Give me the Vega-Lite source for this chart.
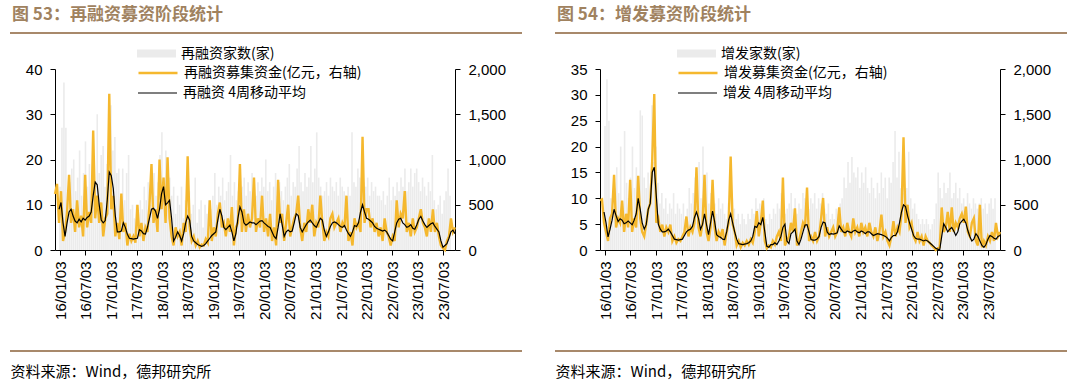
{
"$schema": "https://vega.github.io/schema/vega-lite/v6.json",
"background": "white",
"autosize": {"type": "pad"},
"padding": {"left": 9, "top": 6, "right": 12, "bottom": 4},
"bounds": "flush",
"spacing": 33,
"config": {
  "view": {"stroke": null},
  "axis": {"grid": false, "domainColor": "#000000", "tickColor": "#000000", "labelColor": "#000000", "labelFont": "Liberation Sans", "labelFontSize": 15, "tickSize": 5, "domainWidth": 1, "tickWidth": 1},
  "legend": {"labelFont": "Noto Sans CJK SC", "labelFontSize": 14, "labelColor": "#000000", "labelOffset": 5, "labelLimit": 400, "padding": 0, "title": null, "clipHeight": 20, "rowPadding": 0, "symbolSize": 1521},
  "title": {"font": "Noto Sans CJK SC", "fontSize": 17, "fontWeight": "bold", "color": "#a0825f", "anchor": "start", "frame": "group", "offset": 8, "dx": 2}
},
"resolve": {"scale": {"fill": "independent", "stroke": "independent", "color": "independent"}},
"hconcat": [
{
  "title": {"text": "图 53：再融资募资阶段统计"},
  "width": 512, "height": 318,
  "data": {"values": "d,n,a,m\n2016-01-03,14,620,\n2016-01-17,27,730,\n2016-01-31,37,300,450\n2016-02-14,27,650,525\n2016-02-28,12,100,300\n2016-03-13,15,200,150\n2016-03-27,18,420,300\n2016-04-10,20,830,420\n2016-04-24,13,300,450\n2016-05-08,16,450,375\n2016-05-22,22,200,320\n2016-06-05,12,550,300\n2016-06-19,17,250,340\n2016-07-03,24,380,310\n2016-07-17,14,150,350\n2016-07-31,19,830,330\n2016-08-14,13,250,360\n2016-08-28,23,420,375\n2016-09-11,15,300,420\n2016-09-25,30,1320,600\n2016-10-09,17,350,750\n2016-10-23,21,600,720\n2016-11-06,23,300,500\n2016-11-20,14,525,330\n2016-12-04,19,150,300\n2016-12-18,16,350,325\n2017-01-01,32,400,550\n2017-01-15,22,1725,860\n2017-01-29,25,450,820\n2017-02-12,17,600,680\n2017-02-26,18,150,380\n2017-03-12,12,300,200\n2017-03-26,18,120,200\n2017-04-09,11,625,210\n2017-04-23,17,200,300\n2017-05-07,21,300,250\n2017-05-21,9,50,175\n2017-06-04,10,180,130\n2017-06-18,7,100,125\n2017-07-02,10,150,120\n2017-07-16,8,80,125\n2017-07-30,11,500,130\n2017-08-13,9,150,225\n2017-08-27,14,300,210\n2017-09-10,11,100,180\n2017-09-24,15,250,175\n2017-10-08,10,200,250\n2017-10-22,14,500,350\n2017-11-05,17,950,450\n2017-11-19,12,300,460\n2017-12-03,15,450,430\n2017-12-17,21,200,350\n2017-12-31,26,1000,450\n2018-01-14,16,450,620\n2018-01-28,22,800,700\n2018-02-11,13,300,500\n2018-02-25,16,1025,520\n2018-03-11,12,350,550\n2018-03-25,14,150,350\n2018-04-08,8,50,100\n2018-04-22,12,250,140\n2018-05-06,10,150,200\n2018-05-20,14,200,160\n2018-06-03,7,50,100\n2018-06-17,11,300,180\n2018-07-01,9,200,300\n2018-07-15,13,1035,375\n2018-07-29,8,250,330\n2018-08-12,10,100,150\n2018-08-26,16,150,100\n2018-09-09,6,50,80\n2018-09-23,9,100,60\n2018-10-07,11,30,50\n2018-10-21,5,60,40\n2018-11-04,10,50,50\n2018-11-18,8,120,70\n2018-12-02,11,80,100\n2018-12-16,9,550,130\n2018-12-30,12,100,160\n2019-01-13,17,250,180\n2019-01-27,10,150,200\n2019-02-10,14,400,330\n2019-02-24,12,525,450\n2019-03-10,16,250,380\n2019-03-24,11,300,250\n2019-04-07,13,150,225\n2019-04-21,15,350,250\n2019-05-05,21,200,275\n2019-05-19,12,475,200\n2019-06-02,15,50,100\n2019-06-16,11,250,180\n2019-06-30,13,300,350\n2019-07-14,18,950,475\n2019-07-28,14,200,420\n2019-08-11,16,450,300\n2019-08-25,12,200,275\n2019-09-08,15,400,290\n2019-09-22,13,250,310\n2019-10-06,17,350,300\n2019-10-20,14,800,300\n2019-11-03,12,200,280\n2019-11-17,15,350,300\n2019-12-01,13,250,320\n2019-12-15,16,600,325\n2019-12-29,14,200,300\n2020-01-12,20,350,280\n2020-01-26,13,150,260\n2020-02-09,15,400,250\n2020-02-23,11,100,200\n2020-03-08,14,250,150\n2020-03-22,17,50,125\n2020-04-05,12,775,250\n2020-04-19,15,300,400\n2020-05-03,13,400,280\n2020-05-17,11,100,150\n2020-05-31,14,300,200\n2020-06-14,16,500,220\n2020-06-28,19,150,200\n2020-07-12,12,250,210\n2020-07-26,15,350,300\n2020-08-09,14,400,400\n2020-08-23,18,600,380\n2020-09-06,23,250,250\n2020-09-20,15,100,200\n2020-10-04,13,300,240\n2020-10-18,17,200,280\n2020-11-01,14,450,310\n2020-11-15,16,300,330\n2020-11-29,23,500,300\n2020-12-13,15,150,270\n2020-12-27,18,300,250\n2021-01-10,26,250,300\n2021-01-24,16,600,350\n2021-02-07,14,300,330\n2021-02-21,12,100,220\n2021-03-07,13,200,150\n2021-03-21,15,150,200\n2021-04-04,12,350,260\n2021-04-18,16,400,300\n2021-05-02,14,250,310\n2021-05-16,13,300,300\n2021-05-30,15,350,280\n2021-06-13,12,200,260\n2021-06-27,16,300,250\n2021-07-11,14,250,270\n2021-07-25,13,600,220\n2021-08-08,11,100,180\n2021-08-22,14,200,150\n2021-09-05,12,50,200\n2021-09-19,26,350,270\n2021-10-03,15,250,260\n2021-10-17,14,300,300\n2021-10-31,18,200,420\n2021-11-14,16,1250,500\n2021-11-28,13,300,420\n2021-12-12,15,450,350\n2021-12-26,14,450,340\n2022-01-09,16,250,320\n2022-01-23,12,350,300\n2022-02-06,15,200,260\n2022-02-20,13,300,240\n2022-03-06,14,150,230\n2022-03-20,12,250,220\n2022-04-03,12,100,210\n2022-04-17,11,350,220\n2022-05-01,13,200,200\n2022-05-15,10,150,160\n2022-05-29,12,50,120\n2022-06-12,16,150,100\n2022-06-26,11,100,200\n2022-07-10,14,550,300\n2022-07-24,12,250,340\n2022-08-07,15,400,350\n2022-08-21,13,350,300\n2022-09-04,16,650,280\n2022-09-18,14,200,250\n2022-10-02,18,300,260\n2022-10-16,13,150,280\n2022-10-30,15,350,240\n2022-11-13,18,200,230\n2022-11-27,14,250,280\n2022-12-11,17,350,340\n2022-12-25,18,450,370\n2023-01-08,15,300,320\n2023-01-22,13,250,280\n2023-02-05,16,150,250\n2023-02-19,14,350,270\n2023-03-05,12,200,290\n2023-03-19,15,450,300\n2023-04-02,13,200,260\n2023-04-16,21,300,230\n2023-04-30,11,150,200\n2023-05-14,9,50,100\n2023-05-28,10,20,30\n2023-06-11,12,0,50\n2023-06-25,8,100,70\n2023-07-09,11,150,130\n2023-07-23,13,350,200\n2023-08-06,18,200,220\n2023-08-20,12,250,180", "format": {"type": "csv", "parse": {"d": "date:'%Y-%m-%d'", "n": "number", "a": "number", "m": "number"}}},
  "resolve": {"scale": {"x": "independent", "y": "independent"}},
  "layer": [
    {
      "mark": {"type": "bar", "width": 1.6},
      "encoding": {
        "x": {"field": "d", "type": "temporal", "title": "资料来源：Wind，德邦研究所",
          "scale": {"domain": [{"year": 2016, "month": 1, "date": 3}, {"year": 2023, "month": 8, "date": 20}], "range": [45, 445]},
          "axis": {"orient": "bottom", "offset": -101, "format": "%y/%m/%d", "labelAngle": 270, "labelPadding": 6, "labelFlush": false, "labelOverlap": false,
            "values": [{"year": 2016, "month": 1, "date": 3}, {"year": 2016, "month": 7, "date": 3}, {"year": 2017, "month": 1, "date": 3}, {"year": 2017, "month": 7, "date": 3}, {"year": 2018, "month": 1, "date": 3}, {"year": 2018, "month": 7, "date": 3}, {"year": 2019, "month": 1, "date": 3}, {"year": 2019, "month": 7, "date": 3}, {"year": 2020, "month": 1, "date": 3}, {"year": 2020, "month": 7, "date": 3}, {"year": 2021, "month": 1, "date": 3}, {"year": 2021, "month": 7, "date": 3}, {"year": 2022, "month": 1, "date": 3}, {"year": 2022, "month": 7, "date": 3}, {"year": 2023, "month": 1, "date": 3}, {"year": 2023, "month": 7, "date": 3}],
            "titleX": 0, "titleY": 121, "titleAlign": "left", "titleBaseline": "middle", "titleFont": "Noto Sans CJK SC", "titleFontSize": 15, "titleFontWeight": "normal", "titleColor": "#000000"}},
        "y": {"field": "n", "type": "quantitative", "scale": {"domain": [0, 40], "range": [217, 36], "nice": false}, "axis": {"orient": "left", "offset": -45, "values": [0, 10, 20, 30, 40], "title": null, "labelPadding": 8}},
        "fill": {"datum": "再融资家数(家)", "scale": {"range": ["#ebebeb"]}, "legend": {"orient": "none", "legendX": 127, "legendY": 10.5, "symbolType": "M-1,-0.2H1V0.2H-1Z", "symbolStrokeWidth": 0}}
      }
    },
    {
      "layer": [
        {
          "mark": {"type": "line", "strokeWidth": 2.4},
          "encoding": {
            "x": {"field": "d", "type": "temporal", "scale": {"domain": [{"year": 2016, "month": 1, "date": 3}, {"year": 2023, "month": 8, "date": 20}], "range": [45, 445]}, "axis": null},
            "y": {"field": "a", "type": "quantitative", "scale": {"domain": [0, 2000], "range": [217, 36], "nice": false}, "axis": {"orient": "right", "offset": -67, "values": [0, 500, 1000, 1500, 2000], "format": ",.0f", "title": null, "labelPadding": 8}},
            "stroke": {"datum": "再融资募集资金(亿元，右轴)", "scale": {"range": ["#f5b82e"]}, "legend": {"orient": "none", "legendX": 127, "legendY": 30, "symbolType": "stroke", "symbolStrokeWidth": 2.5}}
          }
        },
        {
          "mark": {"type": "line", "strokeWidth": 1.2},
          "encoding": {
            "x": {"field": "d", "type": "temporal", "axis": null},
            "y": {"field": "m", "type": "quantitative", "axis": {"orient": "right", "offset": -67, "values": [0, 500, 1000, 1500, 2000], "format": ",.0f", "title": null, "labelPadding": 8}},
            "color": {"datum": "再融资 4周移动平均", "scale": {"range": ["#000000"]}, "legend": {"orient": "none", "legendX": 127, "legendY": 50, "symbolType": "stroke", "symbolStrokeWidth": 1.2}}
          }
        }
      ]
    },
    {
      "data": {"values": [{}]},
      "layer": [
        {"mark": {"type": "rule", "color": "#a8896b", "strokeWidth": 2}, "encoding": {"x": {"datum": 0, "type": "quantitative", "scale": {"domain": [0, 1]}, "axis": null}, "x2": {"datum": 1}, "y": {"datum": 1, "type": "quantitative", "scale": {"domain": [0, 1]}, "axis": null}}},
        {"mark": {"type": "rule", "color": "#a8896b", "strokeWidth": 2}, "encoding": {"x": {"datum": 0, "type": "quantitative", "axis": null}, "x2": {"datum": 1}, "y": {"datum": 0, "type": "quantitative", "axis": null}}}
      ]
    }
  ]
},
{
  "title": {"text": "图 54：增发募资阶段统计"},
  "width": 512, "height": 318,
  "data": {"values": "d,n,a,m\n2016-01-03,24,550,\n2016-01-17,33,560,\n2016-01-31,25,300,420\n2016-02-14,10,200,300\n2016-02-28,8,100,145\n2016-03-13,12,350,230\n2016-03-27,16,400,330\n2016-04-10,11,830,450\n2016-04-24,20,250,380\n2016-05-08,9,350,315\n2016-05-22,23,300,345\n2016-06-05,13,545,330\n2016-06-19,10,200,290\n2016-07-03,14,400,300\n2016-07-17,20,250,320\n2016-07-31,12,775,300\n2016-08-14,16,200,280\n2016-08-28,11,350,330\n2016-09-11,27,250,400\n2016-09-25,26,820,570\n2016-10-09,14,350,450\n2016-10-23,12,200,300\n2016-11-06,15,150,230\n2016-11-20,10,290,280\n2016-12-04,28,450,450\n2016-12-18,17,515,515\n2017-01-01,20,1000,860\n2017-01-15,13,1723,915\n2017-01-29,9,300,600\n2017-02-12,11,350,285\n2017-02-26,8,200,230\n2017-03-12,10,280,200\n2017-03-26,7,150,200\n2017-04-09,9,250,210\n2017-04-23,8,200,230\n2017-05-07,11,280,200\n2017-05-21,7,100,160\n2017-06-04,9,150,120\n2017-06-18,8,80,115\n2017-07-02,7,120,110\n2017-07-16,9,100,115\n2017-07-30,6,150,120\n2017-08-13,8,200,160\n2017-08-27,12,370,200\n2017-09-10,9,150,220\n2017-09-24,11,250,230\n2017-10-08,14,200,260\n2017-10-22,12,300,360\n2017-11-05,17,915,420\n2017-11-19,10,250,350\n2017-12-03,20,150,230\n2017-12-17,12,300,280\n2017-12-31,15,830,400\n2018-01-14,9,200,280\n2018-01-28,11,100,170\n2018-02-11,8,250,300\n2018-02-25,9,775,430\n2018-03-11,7,250,320\n2018-03-25,10,100,170\n2018-04-08,8,200,150\n2018-04-22,9,150,140\n2018-05-06,7,230,120\n2018-05-20,6,50,115\n2018-06-03,9,200,200\n2018-06-17,7,300,330\n2018-07-01,10,1033,400\n2018-07-15,8,285,300\n2018-07-29,6,200,200\n2018-08-12,7,50,120\n2018-08-26,5,100,70\n2018-09-09,7,30,65\n2018-09-23,6,80,60\n2018-10-07,5,50,65\n2018-10-21,7,100,70\n2018-11-04,6,60,80\n2018-11-18,8,120,100\n2018-12-02,7,80,150\n2018-12-16,10,200,260\n2018-12-30,8,430,250\n2019-01-13,9,150,300\n2019-01-27,7,300,280\n2019-02-10,10,545,360\n2019-02-24,6,100,200\n2019-03-10,5,20,40\n2019-03-24,7,50,30\n2019-04-07,6,30,60\n2019-04-21,8,100,60\n2019-05-05,7,60,80\n2019-05-19,9,150,60\n2019-06-02,8,200,100\n2019-06-16,11,100,150\n2019-06-30,9,800,250\n2019-07-14,7,50,285\n2019-07-28,8,100,100\n2019-08-11,9,150,70\n2019-08-25,11,300,180\n2019-09-08,8,200,200\n2019-09-22,10,460,230\n2019-10-06,7,50,100\n2019-10-20,9,100,60\n2019-11-03,8,200,120\n2019-11-17,11,300,200\n2019-12-01,10,250,275\n2019-12-15,9,690,280\n2019-12-29,8,100,200\n2020-01-12,10,150,115\n2020-01-26,9,100,110\n2020-02-09,11,200,110\n2020-02-23,8,100,120\n2020-03-08,10,150,150\n2020-03-22,9,350,250\n2020-04-05,11,575,310\n2020-04-19,8,150,300\n2020-05-03,7,250,200\n2020-05-17,9,150,170\n2020-05-31,6,200,180\n2020-06-14,7,250,175\n2020-06-28,6,150,180\n2020-07-12,8,200,190\n2020-07-26,7,470,265\n2020-08-09,9,200,230\n2020-08-23,10,250,200\n2020-09-06,14,150,190\n2020-09-20,12,300,210\n2020-10-04,17,200,200\n2020-10-18,13,150,190\n2020-11-01,18,350,210\n2020-11-15,15,200,220\n2020-11-29,14,250,200\n2020-12-13,16,150,190\n2020-12-27,12,300,210\n2021-01-10,15,200,200\n2021-01-24,13,250,180\n2021-02-07,16,150,200\n2021-02-21,12,300,200\n2021-03-07,11,200,180\n2021-03-21,14,150,160\n2021-04-04,12,250,170\n2021-04-18,10,100,180\n2021-05-02,13,200,175\n2021-05-16,11,390,170\n2021-05-30,15,150,160\n2021-06-13,12,200,150\n2021-06-27,14,100,130\n2021-07-11,10,50,100\n2021-07-25,14,150,140\n2021-08-08,13,320,160\n2021-08-22,17,150,160\n2021-09-05,23,250,200\n2021-09-19,14,200,300\n2021-10-03,19,400,420\n2021-10-17,12,1245,500\n2021-10-31,11,300,480\n2021-11-14,10,500,380\n2021-11-28,12,250,300\n2021-12-12,19,300,230\n2021-12-26,10,150,160\n2022-01-09,8,100,130\n2022-01-23,9,200,120\n2022-02-06,7,100,120\n2022-02-20,6,150,110\n2022-03-06,5,50,100\n2022-03-20,6,150,110\n2022-04-03,5,100,100\n2022-04-17,6,80,80\n2022-05-01,5,50,60\n2022-05-15,4,30,40\n2022-05-29,5,0,20\n2022-06-12,6,20,10\n2022-06-26,9,30,0\n2022-07-10,15,470,150\n2022-07-24,12,200,290\n2022-08-07,10,250,250\n2022-08-21,13,420,200\n2022-09-04,11,200,230\n2022-09-18,12,470,250\n2022-10-02,15,200,210\n2022-10-16,10,300,160\n2022-10-30,11,250,200\n2022-11-13,13,350,290\n2022-11-27,10,400,320\n2022-12-11,12,300,340\n2022-12-25,9,480,300\n2023-01-08,10,200,215\n2023-01-22,8,150,150\n2023-02-05,11,300,100\n2023-02-19,9,350,120\n2023-03-05,8,100,180\n2023-03-19,10,50,150\n2023-04-02,9,500,100\n2023-04-16,8,30,50\n2023-04-30,9,100,30\n2023-05-14,10,50,60\n2023-05-28,8,150,120\n2023-06-11,9,100,160\n2023-06-25,7,200,150\n2023-07-09,9,100,130\n2023-07-23,10,300,120\n2023-08-06,8,150,150\n2023-08-20,10,200,160", "format": {"type": "csv", "parse": {"d": "date:'%Y-%m-%d'", "n": "number", "a": "number", "m": "number"}}},
  "resolve": {"scale": {"x": "independent", "y": "independent"}},
  "layer": [
    {
      "mark": {"type": "bar", "width": 1.6},
      "encoding": {
        "x": {"field": "d", "type": "temporal", "title": "资料来源：Wind，德邦研究所",
          "scale": {"domain": [{"year": 2016, "month": 1, "date": 3}, {"year": 2023, "month": 8, "date": 20}], "range": [45, 445]},
          "axis": {"orient": "bottom", "offset": -101, "format": "%y/%m/%d", "labelAngle": 270, "labelPadding": 6, "labelFlush": false, "labelOverlap": false,
            "values": [{"year": 2016, "month": 1, "date": 3}, {"year": 2016, "month": 7, "date": 3}, {"year": 2017, "month": 1, "date": 3}, {"year": 2017, "month": 7, "date": 3}, {"year": 2018, "month": 1, "date": 3}, {"year": 2018, "month": 7, "date": 3}, {"year": 2019, "month": 1, "date": 3}, {"year": 2019, "month": 7, "date": 3}, {"year": 2020, "month": 1, "date": 3}, {"year": 2020, "month": 7, "date": 3}, {"year": 2021, "month": 1, "date": 3}, {"year": 2021, "month": 7, "date": 3}, {"year": 2022, "month": 1, "date": 3}, {"year": 2022, "month": 7, "date": 3}, {"year": 2023, "month": 1, "date": 3}, {"year": 2023, "month": 7, "date": 3}],
            "titleX": 0, "titleY": 121, "titleAlign": "left", "titleBaseline": "middle", "titleFont": "Noto Sans CJK SC", "titleFontSize": 15, "titleFontWeight": "normal", "titleColor": "#000000"}},
        "y": {"field": "n", "type": "quantitative", "scale": {"domain": [0, 35], "range": [217, 36], "nice": false}, "axis": {"orient": "left", "offset": -45, "values": [0, 5, 10, 15, 20, 25, 30, 35], "title": null, "labelPadding": 8}},
        "fill": {"datum": "增发家数(家)", "scale": {"range": ["#ebebeb"]}, "legend": {"orient": "none", "legendX": 122, "legendY": 10.5, "symbolType": "M-1,-0.2H1V0.2H-1Z", "symbolStrokeWidth": 0}}
      }
    },
    {
      "layer": [
        {
          "mark": {"type": "line", "strokeWidth": 2.4},
          "encoding": {
            "x": {"field": "d", "type": "temporal", "scale": {"domain": [{"year": 2016, "month": 1, "date": 3}, {"year": 2023, "month": 8, "date": 20}], "range": [45, 445]}, "axis": null},
            "y": {"field": "a", "type": "quantitative", "scale": {"domain": [0, 2000], "range": [217, 36], "nice": false}, "axis": {"orient": "right", "offset": -67, "values": [0, 500, 1000, 1500, 2000], "format": ",.0f", "title": null, "labelPadding": 8}},
            "stroke": {"datum": "增发募集资金(亿元，右轴)", "scale": {"range": ["#f5b82e"]}, "legend": {"orient": "none", "legendX": 122, "legendY": 30, "symbolType": "stroke", "symbolStrokeWidth": 2.5}}
          }
        },
        {
          "mark": {"type": "line", "strokeWidth": 1.2},
          "encoding": {
            "x": {"field": "d", "type": "temporal", "axis": null},
            "y": {"field": "m", "type": "quantitative", "axis": {"orient": "right", "offset": -67, "values": [0, 500, 1000, 1500, 2000], "format": ",.0f", "title": null, "labelPadding": 8}},
            "color": {"datum": "增发 4周移动平均", "scale": {"range": ["#000000"]}, "legend": {"orient": "none", "legendX": 122, "legendY": 50, "symbolType": "stroke", "symbolStrokeWidth": 1.2}}
          }
        }
      ]
    },
    {
      "data": {"values": [{}]},
      "layer": [
        {"mark": {"type": "rule", "color": "#a8896b", "strokeWidth": 2}, "encoding": {"x": {"datum": 0, "type": "quantitative", "scale": {"domain": [0, 1]}, "axis": null}, "x2": {"datum": 1}, "y": {"datum": 1, "type": "quantitative", "scale": {"domain": [0, 1]}, "axis": null}}},
        {"mark": {"type": "rule", "color": "#a8896b", "strokeWidth": 2}, "encoding": {"x": {"datum": 0, "type": "quantitative", "axis": null}, "x2": {"datum": 1}, "y": {"datum": 0, "type": "quantitative", "axis": null}}}
      ]
    }
  ]
}
]
}
